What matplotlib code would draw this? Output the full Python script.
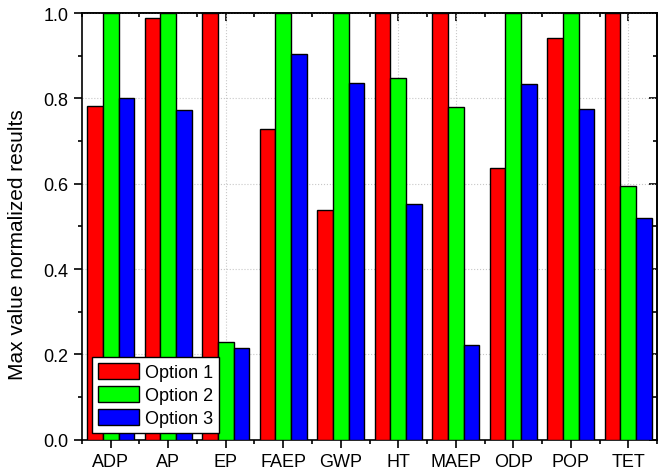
import matplotlib
matplotlib.use('Agg')
import matplotlib.pyplot as plt
import numpy as np
from matplotlib.ticker import MultipleLocator, FixedLocator, FormatStrFormatter

plt.rcParams['font.family'] = ['Liberation Sans', 'DejaVu Sans']

categories = ['ADP', 'AP', 'EP', 'FAEP', 'GWP', 'HT', 'MAEP', 'ODP', 'POP', 'TET']
option1 = [0.783, 0.988, 1.0, 0.728, 0.538, 1.0, 1.0, 0.636, 0.942, 1.0]
option2 = [1.0, 1.0, 0.230, 1.0, 1.0, 0.848, 0.779, 1.0, 1.0, 0.594]
option3 = [0.802, 0.773, 0.216, 0.905, 0.836, 0.552, 0.222, 0.833, 0.776, 0.519]
series_names = ['Option 1', 'Option 2', 'Option 3']
colors = ['#ff0000', '#00ff00', '#0000ff']

fig = plt.figure(figsize=(6.59, 4.77), dpi=100)
ax = fig.add_axes([0.1244, 0.0761, 0.8726, 0.8945])

x = np.arange(len(categories))
w = 0.275
for k, (vals, name, c) in enumerate(zip([option1, option2, option3], series_names, colors)):
    ax.bar(x + (k - 1) * w, vals, width=w, color=c, edgecolor='black',
           linewidth=1.0, label=name, zorder=3)

ax.set_xlim(-0.5, len(categories) - 0.5)
ax.set_ylim(0, 1.0)
ax.set_xticks(x)
ax.set_xticklabels(categories, fontsize=13)
ax.xaxis.set_minor_locator(FixedLocator(np.arange(-0.5, len(categories), 1.0)))
ax.yaxis.set_major_locator(MultipleLocator(0.2))
ax.yaxis.set_minor_locator(MultipleLocator(0.1))
ax.yaxis.set_major_formatter(FormatStrFormatter('%.1f'))
ax.tick_params(which='major', direction='out', length=5.8, width=1.2, pad=4, labelsize=13)
ax.tick_params(which='minor', direction='out', length=3.2, width=1.2)

for s in ax.spines.values():
    s.set_linewidth(1.2)

ax.grid(True, which='major', color='#c8c8c8', linestyle=':', linewidth=0.8, zorder=0)
ax.set_axisbelow(True)

# mirrored ticks on top and right, pointing inward
top = ax.secondary_xaxis('top')
top.set_xticks(x)
top.xaxis.set_minor_locator(FixedLocator(np.arange(-0.5, len(categories), 1.0)))
top.tick_params(which='major', direction='in', length=5.8, width=1.2, labeltop=False)
top.tick_params(which='minor', direction='in', length=3.2, width=1.2)
top.spines['top'].set_linewidth(1.2)

right = ax.secondary_yaxis('right')
right.yaxis.set_major_locator(MultipleLocator(0.2))
right.yaxis.set_minor_locator(MultipleLocator(0.1))
right.tick_params(which='major', direction='in', length=5.8, width=1.2, labelright=False)
right.tick_params(which='minor', direction='in', length=3.2, width=1.2)
right.spines['right'].set_linewidth(1.2)

ax.set_ylabel('Max value normalized results', fontsize=15)
ax.yaxis.set_label_coords(-0.096, 0.459)

leg = ax.legend(loc='lower left', bbox_to_anchor=(0.0174, 0.0157), fontsize=13,
                frameon=True, fancybox=False, edgecolor='black', framealpha=1,
                handlelength=2.3, handleheight=0.95, handletextpad=0.3,
                labelspacing=0.28, borderpad=0.32, borderaxespad=0)
leg.get_frame().set_linewidth(1.0)
leg.set_zorder(5)

fig.savefig('out.png', dpi=100)
